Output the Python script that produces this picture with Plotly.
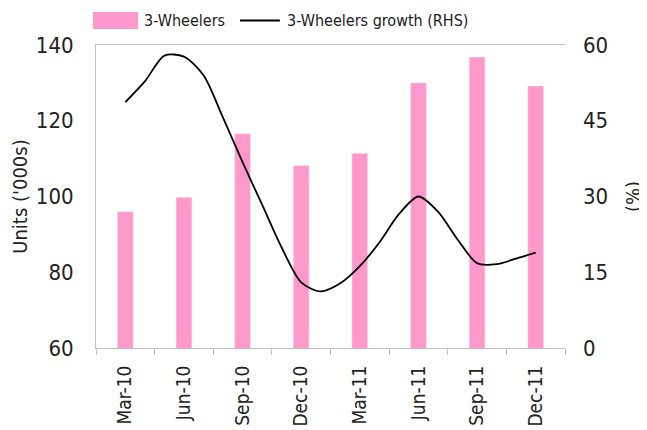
import plotly.graph_objects as go

quarters = ["Mar-10", "Jun-10", "Sep-10", "Dec-10", "Mar-11", "Jun-11", "Sep-11", "Dec-11"]
units_000s = [96.0, 99.8, 116.6, 108.2, 111.4, 130.0, 136.8, 129.2]

months = ["Mar-10", "Apr-10", "May-10", "Jun-10", "Jul-10", "Aug-10", "Sep-10", "Oct-10",
          "Nov-10", "Dec-10", "Jan-11", "Feb-11", "Mar-11", "Apr-11", "May-11", "Jun-11",
          "Jul-11", "Aug-11", "Sep-11", "Oct-11", "Nov-11", "Dec-11"]
growth_pct = [48.7, 52.8, 57.9, 57.7, 54.0, 45.6, 36.8, 28.4, 19.9, 13.0, 11.2, 12.8,
              16.2, 20.9, 26.5, 30.0, 27.0, 21.5, 16.8, 16.6, 17.7, 18.9]

left_ticks = [60, 80, 100, 120, 140]
right_ticks = [0, 15, 30, 45, 60]

FONT = "DejaVu Sans Condensed, Liberation Sans, Arial, sans-serif"
PINK = "#FF99CC"
GRID = "#C0C0C0"
TXT = "#222222"

fig = go.Figure()
fig.add_trace(go.Bar(x=quarters, y=units_000s, name="3-Wheelers", marker_color=PINK,
                     width=0.27, xaxis="x", yaxis="y", showlegend=False))
fig.add_trace(go.Scatter(x=months, y=growth_pct, name="3-Wheelers growth (RHS)", mode="lines",
                         line=dict(color="black", width=1.8, shape="spline", smoothing=0.8),
                         xaxis="x2", yaxis="y2", showlegend=False))

# the page body has an 8px margin, so the figure is 8px smaller than the window
fig.update_layout(
    width=639, height=422,
    margin=dict(l=88, r=82, t=37, b=82),
    paper_bgcolor="white", plot_bgcolor="white",
    font=dict(family=FONT, size=20, color=TXT),
    xaxis=dict(type="category", categoryorder="array", categoryarray=quarters,
               range=[-0.5, 7.5], tickangle=-90, tickson="boundaries", automargin=False,
               ticks="outside", ticklen=6, tickcolor=GRID, ticklabelstandoff=9,
               showline=True, linecolor=GRID, linewidth=1, mirror=True,
               showgrid=False, zeroline=False, tickfont=dict(size=19)),
    xaxis2=dict(type="category", categoryorder="array", categoryarray=months,
                range=[-1.5, 22.5], overlaying="x", visible=False, anchor="y"),
    yaxis=dict(range=[60, 140], tickvals=left_ticks, showgrid=False, zeroline=False,
               automargin=False,
               showline=True, linecolor=GRID, linewidth=1, ticks="", ticklabelstandoff=17,
               title=dict(text="Units ('000s)", standoff=16, font=dict(size=20)),
               tickfont=dict(size=22)),
    yaxis2=dict(range=[0, 60], tickvals=right_ticks, overlaying="y", side="right",
                anchor="x", showgrid=False, zeroline=False, showline=False, ticks="",
                automargin=False, ticklabelstandoff=17,
                title=dict(text="(%)", standoff=18, font=dict(size=20)),
                tickfont=dict(size=22)),
    shapes=[
        dict(type="rect", xref="paper", yref="paper", x0=-0.0064, x1=0.0896, y0=1.053, y1=1.109,
             fillcolor=PINK, line=dict(width=0)),
        dict(type="line", xref="paper", yref="paper", x0=0.307, x1=0.392, y0=1.081, y1=1.081,
             line=dict(color="black", width=2)),
    ],
    annotations=[
        dict(text="3-Wheelers", xref="paper", yref="paper", x=0.098, y=1.081,
             xanchor="left", yanchor="middle", showarrow=False, font=dict(size=16)),
        dict(text="3-Wheelers growth (RHS)", xref="paper", yref="paper", x=0.403, y=1.081,
             xanchor="left", yanchor="middle", showarrow=False, font=dict(size=16)),
    ],
)

fig.write_html("out.html")
